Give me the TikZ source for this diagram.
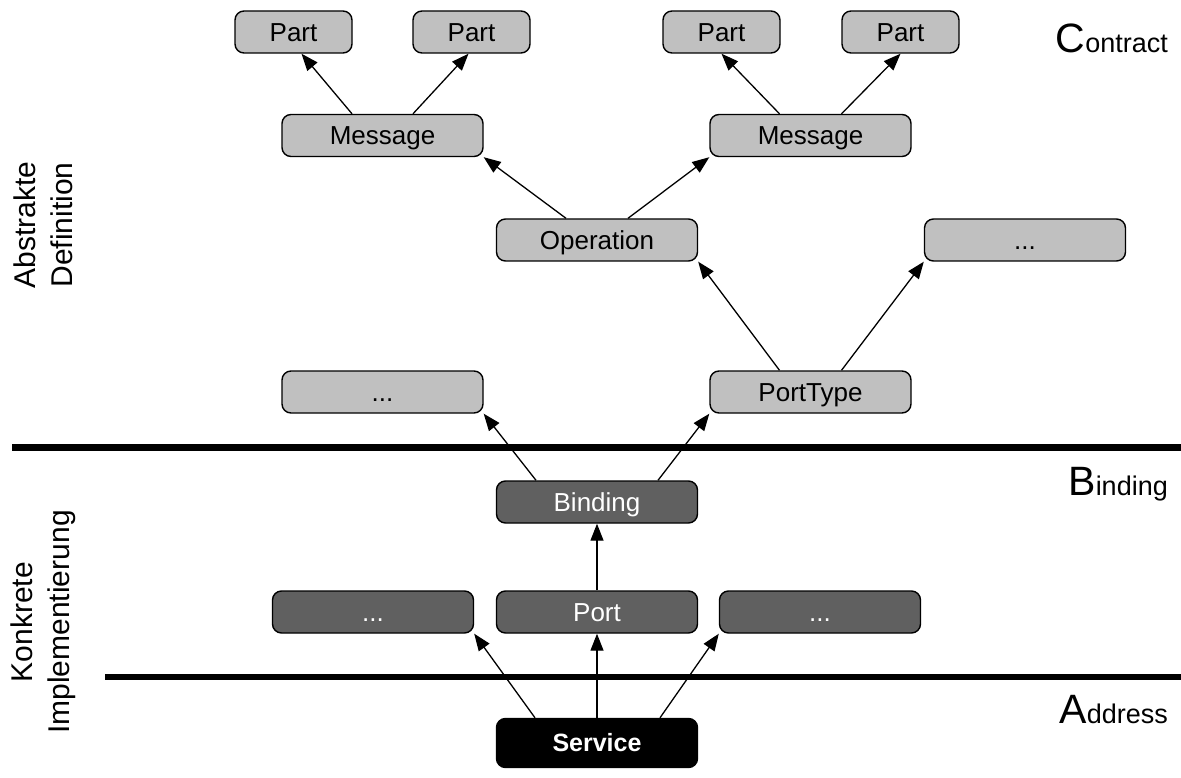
\documentclass[tikz,border=0pt]{standalone}
\usepackage{fontspec}
\setmainfont{Liberation Sans}
\usetikzlibrary{arrows.meta,calc}
\definecolor{lightfill}{HTML}{C0C0C0}
\definecolor{darkfill}{HTML}{606060}
\begin{document}
\begin{tikzpicture}[x=1pt,y=-1pt,
  box/.style={draw=black, line width=1.4pt, rounded corners=9pt, minimum width=201pt,
    minimum height=42pt, inner sep=0pt, font=\fontsize{26}{26}\selectfont,
    text height=18.6pt, text depth=0pt},
  lbox/.style={box, fill=lightfill, text=black},
  pbox/.style={lbox, minimum width=117pt},
  dbox/.style={box, fill=darkfill, text=white},
  sbox/.style={box, fill=black, text=white, minimum height=49pt, font=\fontsize{25}{25}\selectfont\bfseries, text height=17.9pt},
  arr/.style={-{Triangle[length=17pt,width=13pt]}, line width=1.3pt},
  sep/.style={line width=6.5pt},
  biglbl/.style={anchor=base east, inner sep=0pt},
  sidelbl/.style={rotate=90, align=center, font=\fontsize{30}{37}\selectfont}
]
\useasboundingbox (0,0) rectangle (1181,778);

% nodes
\node[pbox] (p1) at (293.5,32) {Part};
\node[pbox] (p2) at (471.5,32) {Part};
\node[pbox] (p3) at (721.5,32) {Part};
\node[pbox] (p4) at (900.5,32) {Part};
\node[lbox] (m1) at (382.5,135.5) {Message};
\node[lbox] (m2) at (810.5,135.5) {Message};
\node[lbox] (op) at (597,240) {Operation};
\node[lbox] (dr) at (1025,240) {...};
\node[lbox] (dl) at (382.5,392) {...};
\node[lbox] (pt) at (810.5,392) {PortType};
\node[dbox] (bi) at (597,502) {Binding};
\node[dbox] (pl) at (373,612) {...};
\node[dbox] (po) at (597,612) {Port};
\node[dbox] (pr) at (820,612) {...};
\node[sbox] (sv) at (597,743) {Service};

% separators
\coordinate (s1a) at (12,447.5);
\coordinate (s1b) at (1181,447.5);
\coordinate (s2a) at (105,677);
\coordinate (s2b) at (1181,677);
\draw[sep] (s1a) -- (s1b);
\draw[sep] (s2a) -- (s2b);

% connectors
\draw[arr] ($(m1.north)+(-30.5,0)$) -- ($(p1.south)+(8,0)$);
\draw[arr] ($(m1.north)+(30.5,0)$) -- ($(p2.south)+(-3,0)$);
\draw[arr] ($(m2.north)+(-31,0)$) -- (p3.south);
\draw[arr] ($(m2.north)+(31,0)$) -- (p4.south);
\draw[arr] ($(op.north)+(-31,0)$) -- (m1.south east);
\draw[arr] ($(op.north)+(31,0)$) -- (m2.south west);
\draw[arr] ($(pt.north)+(-31,0)$) -- (op.south east);
\draw[arr] ($(pt.north)+(31,0)$) -- (dr.south west);
\draw[arr] ($(bi.north)+(-61,0)$) -- (dl.south east);
\draw[arr] ($(bi.north)+(61,0)$) -- (pt.south west);
\draw[arr] (po.north) -- (bi.south);
\draw[arr] ($(sv.north)+(-62,0)$) -- (pl.south east);
\draw[arr] (sv.north) -- (po.south);
\draw[arr] ($(sv.north)+(63,0)$) -- (pr.south west);

% labels
\node[biglbl] (lc) at (1168,53) {{\fontsize{41}{41}\selectfont C}{\fontsize{27}{27}\selectfont ontract}};
\node[biglbl] (lb) at (1168,495) {{\fontsize{41}{41}\selectfont B}{\fontsize{27}{27}\selectfont inding}};
\node[biglbl] (ld) at (1168,723) {{\fontsize{41}{41}\selectfont A}{\fontsize{27}{27}\selectfont ddress}};
\node[sidelbl] (la) at (43,225) {Abstrakte\\Definition};
\node[sidelbl] (lk) at (43,622) {Konkrete\\Implementierung};
\end{tikzpicture}
\end{document}
